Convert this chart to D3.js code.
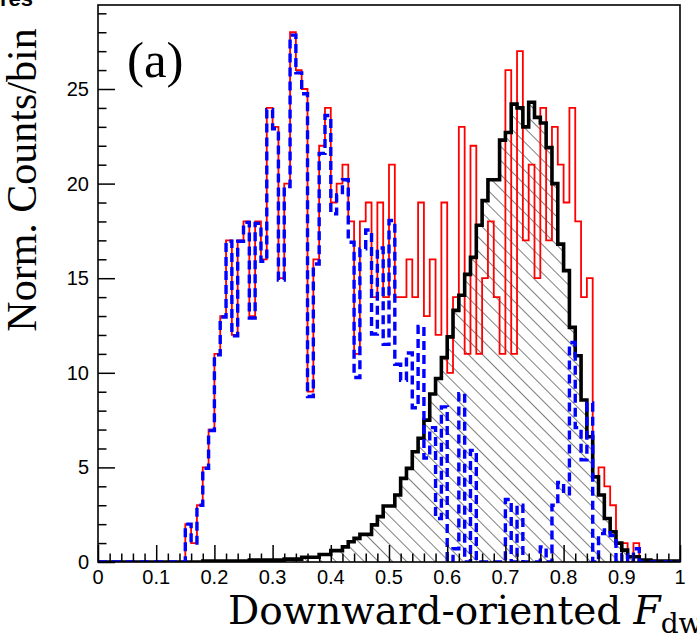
<!DOCTYPE html>
<html>
<head>
<meta charset="utf-8">
<script src="https://cdn.jsdelivr.net/npm/d3@7"></script>
<style>
  body { margin: 0; background: #fff; }
  svg { display: block; }
</style>
</head>
<body>
<div id="plot"></div>
<script>
// 100 bins of width 0.01 between 0 and 1
const binLow = 0, binHigh = 1, nBins = 100;

// red: all events
const redCounts = [
  0, 0, 0, 0, 0, 0, 0, 0, 0, 0,
  0, 0, 0, 0, 0, 2, 1, 3, 5, 7,
  11, 13, 17, 12, 17, 18, 13, 18, 16, 24,
  23, 15, 20, 28, 26, 25, 9, 16, 22, 24,
  19, 20, 21, 18, 11, 18, 19, 14, 19, 14,
  21, 14, 14, 16, 14, 19, 13, 16, 12, 19,
  10, 14, 23, 11, 22, 11, 15, 18, 14, 11,
  26, 11, 27, 17, 21, 15, 24, 17, 23, 21,
  19, 24, 18, 14, 15, 4.5, 5, 4, 3, 1,
  1, 0, 1, 0, 0, 0, 0, 0, 0, 0
];

// black, hatched: downward-oriented template
const blackCounts = [
  0, 0, 0, 0, 0, 0, 0, 0, 0, 0,
  0, 0, 0, 0, 0, 0, 0, 0, 0.05, 0.05,
  0.05, 0.05, 0.05, 0.05, 0.05, 0.05, 0.1, 0.1, 0.1, 0.1,
  0.1, 0.1, 0.15, 0.15, 0.15, 0.25, 0.25, 0.25, 0.4, 0.4,
  0.6, 0.6, 0.8, 1.07, 1.25, 1.46, 1.46, 1.96, 2.4, 2.96,
  2.96, 3.54, 4.42, 4.95, 5.83, 6.54, 7.5, 8.88, 9.7, 10.8,
  11.9, 13.3, 14.1, 15.2, 16.1, 17.8, 19.1, 20.2, 20.2, 22.3,
  22.7, 24.2, 24.0, 23.0, 24.3, 23.5, 23.2, 21.9, 20.0, 16.8,
  15.4, 12.4, 10.9, 8.56, 6.62, 4.5, 3.54, 2.3, 1.6, 1.0,
  0.63, 0.28, 0.28, 0.1, 0.1, 0.05, 0.05, 0.05, 0.05, 0.05
];

// blue dashed: remaining events
const blueCounts = [
  0, 0, 0, 0, 0, 0, 0, 0, 0, 0,
  0, 0, 0, 0, 0, 2, 1, 3, 4.95, 6.95,
  10.95, 12.95, 16.95, 11.95, 16.95, 17.95, 12.9, 17.9, 15.9, 23.9,
  22.9, 14.9, 19.85, 27.85, 25.85, 24.75, 8.75, 15.75, 21.6, 23.6,
  18.4, 19.4, 20.2, 16.9, 9.75, 16.55, 17.55, 12.05, 16.6, 11.5,
  18.05, 10.45, 9.6, 11.05, 8.15, 12.45, 5.5, 7.1, 2.3, 8.2,
  0, 0.7, 8.9, 0, 5.9, 0, 0, 0, 0, 0,
  3.3, 0, 3.0, 0, 0, 0, 0.8, 0, 3.0, 4.2,
  3.6, 11.6, 7.1, 5.4, 8.4, 0, 1.5, 1.7, 1.4, 0,
  0.4, 0, 0.7, 0, 0, 0, 0, 0, 0, 0
];

const xTickLabels = ["0", "0.1", "0.2", "0.3", "0.4", "0.5", "0.6", "0.7", "0.8", "0.9", "1"];
const yTickLabels = ["0", "5", "10", "15", "20", "25"];

const width = 697, height = 644;
const padL = 98, padR = 680, padT = 5, padB = 562;

const x = d3.scaleLinear().domain([binLow, binHigh]).range([padL, padR]);
const y = d3.scaleLinear().domain([0, 29.44]).range([padB, padT]);

const svg = d3.select("div#plot")
  .append("svg")
    .attr("width", width)
    .attr("height", height);

const defs = svg.append("defs");
defs.append("clipPath").attr("id", "frame")
  .append("rect")
    .attr("x", padL).attr("y", padT)
    .attr("width", padR - padL).attr("height", padB - padT);

const pat = defs.append("pattern")
  .attr("id", "hatch")
  .attr("patternUnits", "userSpaceOnUse")
  .attr("width", 10).attr("height", 10)
  .attr("patternTransform", "rotate(-45)");
pat.append("line")
  .attr("x1", 0).attr("y1", 0).attr("x2", 0).attr("y2", 10)
  .attr("stroke", "#000").attr("stroke-width", 1);

// turn bin contents into step points
function stepPoints(values) {
  const w = (binHigh - binLow) / nBins;
  const pts = [[binLow, 0]];
  values.forEach(function(v, i) { pts.push([binLow + i * w, v]); });
  pts.push([binHigh, values[values.length - 1]]);
  pts.push([binHigh, 0]);
  return pts;
}

const line = d3.line()
  .x(function(d) { return x(d[0]); })
  .y(function(d) { return y(Math.max(0, d[1])); })
  .curve(d3.curveStepAfter);

const area = d3.area()
  .x(function(d) { return x(d[0]); })
  .y0(y(0))
  .y1(function(d) { return y(Math.max(0, d[1])); })
  .curve(d3.curveStepAfter);

const g = svg.append("g").attr("clip-path", "url(#frame)");

g.append("path")
  .attr("d", area(stepPoints(blackCounts)))
  .attr("fill", "url(#hatch)");

g.append("path")
  .attr("d", line(stepPoints(redCounts)))
  .attr("fill", "none")
  .attr("stroke", "#ff0000")
  .attr("stroke-width", 1.8);

g.append("path")
  .attr("d", line(stepPoints(blackCounts)))
  .attr("fill", "none")
  .attr("stroke", "#000")
  .attr("stroke-width", 3.6);

g.append("path")
  .attr("d", line(stepPoints(blueCounts)))
  .attr("fill", "none")
  .attr("stroke", "#0000ff")
  .attr("stroke-width", 3.4)
  .attr("stroke-dasharray", "9,5");

// frame
svg.append("rect")
  .attr("x", padL).attr("y", padT)
  .attr("width", padR - padL).attr("height", padB - padT)
  .attr("fill", "none")
  .attr("stroke", "#000")
  .attr("stroke-width", 1.6);

// x axis, ticks pointing inside
const xAxis = d3.axisTop(x)
  .tickValues(d3.range(0, 51).map(function(i) { return i / 50; }))
  .tickSize(0)
  .tickFormat("");
const xg = svg.append("g").attr("transform", `translate(0,${padB})`).call(xAxis);
xg.select(".domain").remove();
xg.selectAll(".tick line")
  .attr("y2", function(d, i) { return i % 5 === 0 ? -17 : -8.5; })
  .attr("stroke", "#000").attr("stroke-width", 1.5);

svg.selectAll(".xlab")
  .data(xTickLabels)
  .join("text")
    .attr("class", "xlab")
    .attr("x", function(d) { return x(+d); })
    .attr("y", 584)
    .attr("text-anchor", "middle")
    .style("font-family", "'Liberation Sans', Arial, sans-serif")
    .style("font-size", "20px")
    .text(function(d) { return d; });

// y axis
const yAxis = d3.axisRight(y)
  .tickValues(d3.range(0, 30))
  .tickSize(0)
  .tickFormat("");
const yg = svg.append("g").attr("transform", `translate(${padL},0)`).call(yAxis);
yg.select(".domain").remove();
yg.selectAll(".tick line")
  .attr("x2", function(d) { return d % 5 === 0 ? 17 : 8.5; })
  .attr("stroke", "#000").attr("stroke-width", 1.5);

svg.selectAll(".ylab")
  .data(yTickLabels)
  .join("text")
    .attr("class", "ylab")
    .attr("x", 89)
    .attr("y", function(d) { return y(+d) + 7; })
    .attr("text-anchor", "end")
    .style("font-family", "'Liberation Sans', Arial, sans-serif")
    .style("font-size", "20px")
    .text(function(d) { return d; });

// titles
svg.append("text")
  .attr("transform", "translate(36,180) rotate(-90)")
  .attr("text-anchor", "middle")
  .style("font-family", "'Liberation Serif', 'Times New Roman', serif")
  .style("font-size", "42px")
  .text("Norm. Counts/bin");

const xt = svg.append("text")
  .attr("x", 228)
  .attr("y", 624)
  .style("font-family", "'DejaVu Serif', serif")
  .style("font-size", "39px");
xt.append("tspan").text("Downward-oriented ");
xt.append("tspan").style("font-style", "italic").text("F");
xt.append("tspan").attr("dy", 9).style("font-size", "28px").text("dwn");

svg.append("text")
  .attr("x", 127)
  .attr("y", 77)
  .style("font-family", "'Liberation Serif', 'Times New Roman', serif")
  .style("font-size", "51px")
  .text("(a)");

// cut-off label at the very top left
svg.append("text")
  .attr("x", 0)
  .attr("y", 6)
  .style("font-family", "'Liberation Sans', Arial, sans-serif")
  .style("font-weight", "bold")
  .style("font-size", "22px")
  .text("res");
</script>
</body>
</html>
